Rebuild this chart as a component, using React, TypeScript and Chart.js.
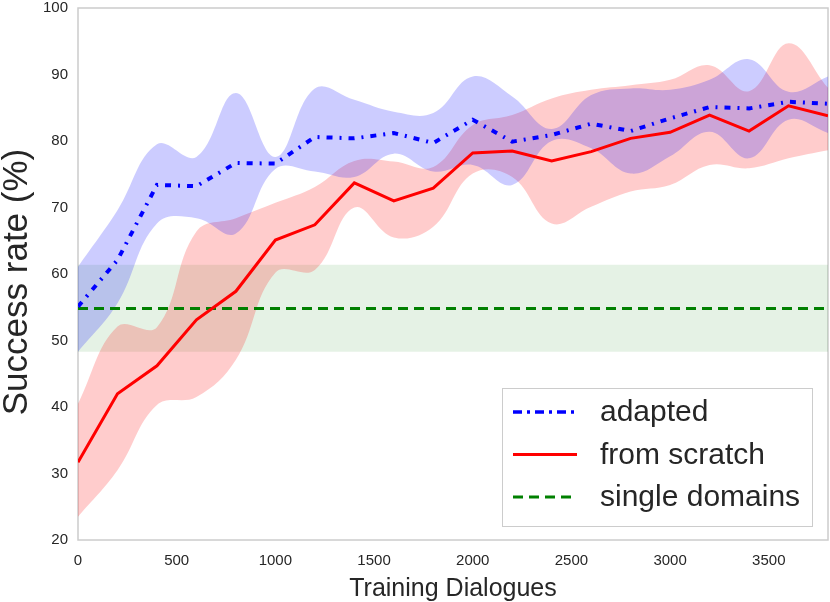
// App.tsx
import { useEffect, useRef } from "react";
import { Chart, registerables } from "chart.js";
import type { ChartConfiguration, Plugin } from "chart.js";

Chart.register(...registerables);

// ====== data ======
const DIALOGUES = [0, 200, 400, 600, 800, 1000, 1200, 1400, 1600, 1800, 2000, 2200, 2400, 2600, 2800, 3000, 3200, 3400, 3600, 3800];

const ADAPTED = [55.1, 62.1, 73.4, 73.2, 76.7, 76.6, 80.6, 80.4, 81.2, 79.7, 83.2, 79.9, 80.9, 82.6, 81.5, 83.4, 85.1, 84.9, 85.9, 85.6];
const ADAPTED_HI = [61.1, 69.6, 79.5, 77.6, 87.2, 77.6, 87.9, 86.2, 84.4, 84.2, 89.7, 86.7, 81.8, 86.9, 87.9, 87.7, 89.2, 92.3, 87.4, 89.7];
const ADAPTED_LO = [48.3, 55.6, 67.6, 68.4, 66.1, 75.8, 75.4, 74.6, 78.1, 75.4, 76.4, 73.4, 80.0, 78.9, 75.1, 77.7, 81.4, 77.4, 83.2, 81.2];

const SCRATCH = [31.7, 42.0, 46.2, 53.1, 57.4, 65.1, 67.4, 73.7, 71.0, 72.9, 78.2, 78.5, 77.0, 78.4, 80.4, 81.3, 83.9, 81.5, 85.3, 83.8];
const SCRATCH_HI = [40.5, 52.1, 52.0, 66.4, 68.4, 70.7, 73.1, 77.0, 76.9, 76.1, 82.4, 83.9, 86.4, 87.7, 88.4, 89.2, 91.4, 87.5, 94.7, 88.0];
const SCRATCH_LO = [23.5, 30.5, 40.3, 41.5, 47.1, 60.2, 60.6, 70.0, 65.5, 67.1, 75.1, 74.6, 67.6, 70.1, 72.4, 73.4, 76.4, 75.9, 77.4, 78.6];

const SINGLE_X = [0, 3800];
const SINGLE = [54.8, 54.8];
const SINGLE_HI = [61.4, 61.4];
const SINGLE_LO = [48.3, 48.3];

const X_TICKS = [0, 500, 1000, 1500, 2000, 2500, 3000, 3500];
const Y_TICKS = [20, 30, 40, 50, 60, 70, 80, 90, 100];

const LEGEND_LABELS = ["adapted", "from scratch", "single domains"];
const Y_TITLE = "Success rate (%)";
const X_TITLE = "Training Dialogues";

const TEXT = "#262626";
const FONT = "'Liberation Sans', Arial, sans-serif";

const pts = (xs: number[], ys: number[]) => xs.map((x, i) => ({ x, y: ys[i] }));

// kotak sumbu abu-abu (gaya seaborn white)
const spines: Plugin<"line"> = {
  id: "spines",
  beforeDatasetsDraw(chart) {
    const { ctx, chartArea: a } = chart;
    ctx.save();
    ctx.strokeStyle = "#cccccc";
    ctx.lineWidth = 1.5;
    ctx.strokeRect(a.left, a.top, a.right - a.left, a.bottom - a.top);
    ctx.restore();
  },
};

// judul sumbu Y besar, digambar manual biar posisinya pas
const yTitle: Plugin<"line"> = {
  id: "yTitle",
  afterDraw(chart) {
    const { ctx, chartArea: a } = chart;
    ctx.save();
    ctx.translate(17, (a.top + a.bottom) / 2 + 8);
    ctx.rotate(-Math.PI / 2);
    ctx.font = `35px ${FONT}`;
    ctx.fillStyle = TEXT;
    ctx.textAlign = "center";
    ctx.textBaseline = "middle";
    ctx.fillText(Y_TITLE, 0, 0);
    ctx.restore();
  },
};

// legend di dalam area plot, kanan bawah
const legendBox: Plugin<"line"> = {
  id: "legendBox",
  afterDatasetsDraw(chart) {
    const { ctx, chartArea: a } = chart;
    const right = a.right - 15;
    const bottom = a.bottom - 13;
    const w = 311;
    const h = 139;
    const left = right - w;
    const top = bottom - h;
    ctx.save();
    ctx.fillStyle = "rgba(255,255,255,0.8)";
    ctx.strokeStyle = "#cccccc";
    ctx.lineWidth = 1;
    ctx.fillRect(left, top, w, h);
    ctx.strokeRect(left + 0.5, top + 0.5, w - 1, h - 1);

    const styles = [
      { color: "#0000ff", dash: [9, 5, 3, 5], width: 3.5 },
      { color: "#ff0000", dash: [], width: 3 },
      { color: "#008000", dash: [10, 6], width: 3 },
    ];
    ctx.font = `30px ${FONT}`;
    ctx.textBaseline = "middle";
    ctx.textAlign = "left";
    LEGEND_LABELS.forEach((label, i) => {
      const y = top + 24 + i * 42.5;
      const s = styles[i];
      ctx.beginPath();
      ctx.setLineDash(s.dash);
      ctx.strokeStyle = s.color;
      ctx.lineWidth = s.width;
      ctx.moveTo(left + 11, y);
      ctx.lineTo(left + 75, y);
      ctx.stroke();
      ctx.setLineDash([]);
      ctx.fillStyle = TEXT;
      ctx.fillText(label, left + 98, y + 1);
    });
    ctx.restore();
  },
};

export default function App() {
  const canvasRef = useRef<HTMLCanvasElement | null>(null);
  const chartRef = useRef<Chart | null>(null);

  useEffect(() => {
    const ctx = canvasRef.current!.getContext("2d")!;

    const band = (data: number[], xs: number[], order: number) => ({
      data: pts(xs, data),
      borderWidth: 0,
      pointRadius: 0,
      tension: 0.4,
      fill: false,
      order,
    });

    // buang padding label tepi supaya area plot pas
    const noEdgePadding = (scale: any) => {
      scale.paddingTop = 0;
      scale.paddingBottom = 0;
      scale.paddingLeft = 0;
      scale.paddingRight = 0;
    };

    const config: ChartConfiguration<"line"> = {
      type: "line",
      data: {
        datasets: [
          {
            label: "adapted",
            data: pts(DIALOGUES, ADAPTED),
            borderColor: "#0000ff",
            borderWidth: 4,
            borderDash: [6, 7, 2, 7],
            pointRadius: 0,
            tension: 0,
            fill: false,
            order: 0,
          },
          {
            label: "from scratch",
            data: pts(DIALOGUES, SCRATCH),
            borderColor: "#ff0000",
            borderWidth: 3,
            pointRadius: 0,
            tension: 0,
            fill: false,
            order: 0,
          },
          {
            label: "single domains",
            data: pts(SINGLE_X, SINGLE),
            borderColor: "#008000",
            borderWidth: 3,
            borderDash: [10, 6],
            pointRadius: 0,
            fill: false,
            order: 0,
          },
          { ...band(ADAPTED_HI, DIALOGUES, 1) },
          { ...band(ADAPTED_LO, DIALOGUES, 1), fill: "-1", backgroundColor: "rgba(0,0,255,0.2)" },
          { ...band(SCRATCH_HI, DIALOGUES, 2) },
          { ...band(SCRATCH_LO, DIALOGUES, 2), fill: "-1", backgroundColor: "rgba(255,0,0,0.2)" },
          { ...band(SINGLE_HI, SINGLE_X, 3), tension: 0 },
          { ...band(SINGLE_LO, SINGLE_X, 3), tension: 0, fill: "-1", backgroundColor: "rgba(0,128,0,0.1)" },
        ] as any,
      },
      options: {
        responsive: true,
        maintainAspectRatio: false,
        animation: false,
        layout: { padding: { top: 8, right: 2, left: 0, bottom: 0 } },
        plugins: {
          legend: { display: false },
          tooltip: { enabled: false },
        },
        scales: {
          x: {
            type: "linear",
            min: 0,
            max: 3800,
            afterBuildTicks(scale) {
              scale.ticks = X_TICKS.map((value) => ({ value }));
            },
            afterFit(scale) {
              scale.height = 62;
              noEdgePadding(scale);
            },
            grid: { display: false, drawTicks: false },
            border: { display: false },
            ticks: {
              color: TEXT,
              padding: 12,
              maxRotation: 0,
              font: { size: 15, family: FONT },
              callback: (v) => String(v),
            },
            title: {
              display: true,
              text: X_TITLE,
              color: TEXT,
              font: { size: 25, family: FONT, lineHeight: 1 },
              padding: { top: 0, bottom: 0 },
            },
          },
          y: {
            min: 20,
            max: 100,
            afterBuildTicks(scale) {
              scale.ticks = Y_TICKS.map((value) => ({ value }));
            },
            afterFit(scale) {
              scale.width = 78;
              noEdgePadding(scale);
            },
            grid: { display: false, drawTicks: false },
            border: { display: false },
            ticks: {
              color: TEXT,
              padding: 10,
              font: { size: 15, family: FONT },
              callback: (v) => String(v),
            },
            title: { display: false },
          },
        },
      },
      plugins: [spines, legendBox, yTitle],
    };

    const chart = new Chart(ctx, config);
    chartRef.current = chart;

    return () => chartRef.current?.destroy();
  }, []);

  return (
    <div style={{ position: "absolute", left: 0, top: 0, width: 830, height: 602, background: "#fff" }}>
      <canvas ref={canvasRef} />
    </div>
  );
}
